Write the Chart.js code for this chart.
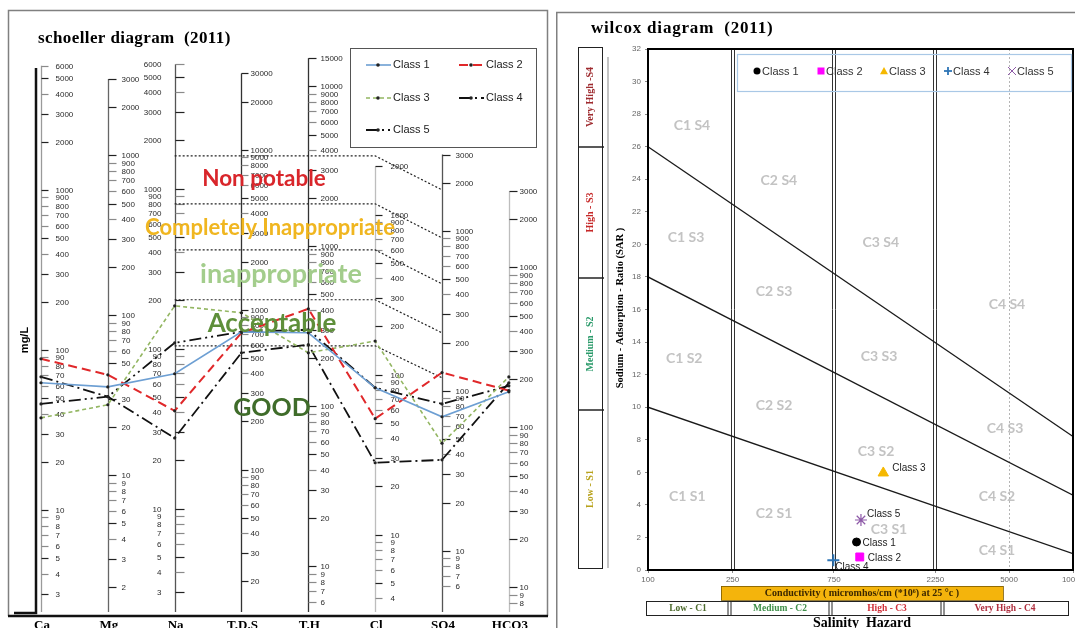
<!DOCTYPE html>
<html>
<head>
<meta charset="utf-8">
<title>schoeller and wilcox diagrams (2011)</title>
<script src="https://cdn.jsdelivr.net/npm/chart.js@4.4.1/dist/chart.umd.min.js"></script>
<style>
  html, body { margin: 0; padding: 0; background: #fff; }
  #page { position: relative; width: 1075px; height: 628px; overflow: hidden; }
  canvas { position: absolute; top: 0; }
  #schoeller { left: 0; }
  #wilcox { left: 556px; }
</style>
</head>
<body>
<div id="page">
  <canvas id="schoeller" width="550" height="628"></canvas>
  <canvas id="wilcox" width="532" height="628"></canvas>
</div>
<script>
// ---------- Schoeller diagram data (mg/L) ----------
const ions = ['Ca', 'Mg', 'Na', 'T.D.S', 'T.H', 'Cl', 'SO4', 'HCO3'];
// mg/L that correspond to one meq/L on the shared log scale, per column
const mgPerMeq = [20.04, 12.15, 19.6, 112, 45, 28.5, 36, 61];

const class1 = [62.5, 35.7, 69.6, 727, 288, 82.7, 68.8, 167];
const class2 = [88.2, 42.5, 40.8, 717, 407, 53.0, 130, 170];
const class3 = [37.7, 27.6, 185, 957, 216, 162, 47.0, 207];
const class4 = [68.1, 31.0, 27.6, 538, 243, 28.1, 37.0, 190];
const class5 = [46.1, 31.0, 108.6, 727, 301, 82.7, 82.8, 182];

// tick labels printed on each column (mg/L)
const caTicks   = [6000, 5000, 4000, 3000, 2000, 1000, 900, 800, 700, 600, 500, 400, 300, 200, 100, 90, 80, 70, 60, 50, 40, 30, 20, 10, 9, 8, 7, 6, 5, 4, 3];
const mgTicks   = [3000, 2000, 1000, 900, 800, 700, 600, 500, 400, 300, 200, 100, 90, 80, 70, 60, 50, 30, 20, 10, 9, 8, 7, 6, 5, 4, 3, 2];
const naTicks   = [6000, 5000, 4000, 3000, 2000, 1000, 900, 800, 700, 600, 500, 400, 300, 200, 100, 90, 80, 70, 60, 50, 40, 30, 20, 10, 9, 8, 7, 6, 5, 4, 3];
const tdsTicks  = [30000, 20000, 10000, 9000, 8000, 7000, 6000, 5000, 4000, 3000, 2000, 1000, 900, 800, 700, 600, 500, 400, 300, 200, 100, 90, 80, 70, 60, 50, 40, 30, 20];
const thTicks   = [15000, 10000, 9000, 8000, 7000, 6000, 5000, 4000, 3000, 2000, 1000, 900, 800, 700, 600, 500, 400, 300, 200, 100, 90, 80, 70, 60, 50, 40, 30, 20, 10, 9, 8, 7, 6];
const clTicks   = [2000, 1000, 900, 800, 700, 600, 500, 400, 300, 200, 100, 90, 80, 70, 60, 50, 40, 30, 20, 10, 9, 8, 7, 6, 5, 4];
const so4Ticks  = [3000, 2000, 1000, 900, 800, 700, 600, 500, 400, 300, 200, 100, 90, 80, 70, 60, 50, 40, 30, 20, 10, 9, 8, 7, 6];
const hco3Ticks = [3000, 2000, 1000, 900, 800, 700, 600, 500, 400, 300, 200, 100, 90, 80, 70, 60, 50, 40, 30, 20, 10, 9, 8];

// drinking-water class limits on the shared scale (meq/L): Na..Cl, then SO4
const zoneLimits    = [81.7, 41.0, 21.1, 10.3, 5.31];
const zoneLimitsSO4 = [50.1, 25.1, 12.95, 6.40, 3.35];
const zoneNames = ['Non potable', 'Completely Inappropriate', 'inappropriate', 'Acceptable', 'GOOD'];

// ---------- Wilcox diagram data ----------
const wClasses = ['Class 1', 'Class 2', 'Class 3', 'Class 4', 'Class 5'];
const wEC  = [958, 992, 1280, 745, 1005];   // micromhos/cm
const wSAR = [1.72, 0.80, 5.96, 0.60, 3.07];
const ecTicks = [100, 250, 750, 2250, 5000, 10000];
const salinityLimits = [250, 750, 2250];
const ecDotted = 5000;
// SAR of each sodium-hazard boundary at EC = 100 and EC = 10000
const sodiumS4 = [26, 8.2];
const sodiumS3 = [18, 4.6];
const sodiumS2 = [10, 1.0];
const sodiumClasses = ['Very High -S4', 'High - S3', 'Medium - S2', 'Low - S1'];
const salinityClasses = ['Low - C1', 'Medium - C2', 'High - C3', 'Very High - C4'];

// ---------- styles ----------
const schoellerStyles = [
  { color: '#6d9fd3', width: 1.6, dash: [] },
  { color: '#e0282a', width: 2.0, dash: [9, 5] },
  { color: '#93b662', width: 1.6, dash: [4, 3] },
  { color: '#111111', width: 1.8, dash: [12, 4, 2, 4] },
  { color: '#111111', width: 1.8, dash: [12, 4, 2, 4, 2, 4] }
];
const axisStyles = [
  { color: '#9a9a9a', dx: 14, tick: 7 },
  { color: '#666666', dx: 13, tick: 8 },
  { color: '#555555', dx: -14, tick: 9 },
  { color: '#333333', dx: 9, tick: 7 },
  { color: '#333333', dx: 12, tick: 8 },
  { color: '#bdbdbd', dx: 15, tick: 7 },
  { color: '#555555', dx: 13, tick: 8 },
  { color: '#bdbdbd', dx: 10, tick: 8 }
];
const zoneTextStyles = [
  { x: 264, y: 179, font: 'bold 22.5px Lato', color: '#d9262b' },
  { x: 270, y: 228, font: 'bold 22px Lato', color: '#f0b620' },
  { x: 281, y: 274, font: 'bold 27px Lato', color: '#a3cd8c' },
  { x: 272, y: 324, font: 'bold 26px Lato', color: '#5e8f3a' },
  { x: 272, y: 408, font: 'bold 25px Lato', color: '#3f6c2a' }
];
const wStyles = [
  { style: 'circle',   radius: 4,   color: '#000000', border: 1 },
  { style: 'rect',     radius: 5.6, color: '#ff00ff', border: 1 },
  { style: 'triangle', radius: 6,   color: '#f5b800', border: 1 },
  { style: 'cross',    radius: 6,   color: '#2e75b6', border: 2 },
  { style: 'star',     radius: 6,   color: '#8e5aa8', border: 1.2 }
];
const wLabelOffsets = [[6, 1], [8, 1], [9, -5], [2, 7], [6, -6]];
const zoneTags = [
  ['C1 S4', 161, 27.3], ['C2 S4', 413, 23.9], ['C1 S3', 151, 20.4], ['C3 S4', 1247, 20.1],
  ['C2 S3', 392, 17.1], ['C4 S4', 4887, 16.3], ['C1 S2', 148, 13.0], ['C3 S3', 1222, 13.1],
  ['C2 S2', 392, 10.1], ['C4 S3', 4786, 8.7], ['C3 S2', 1183, 7.25], ['C1 S1', 153, 4.5],
  ['C4 S2', 4385, 4.5], ['C2 S1', 392, 3.5], ['C3 S1', 1361, 2.46], ['C4 S1', 4385, 1.17]
];

function line(ctx, x1, y1, x2, y2) {
  ctx.beginPath(); ctx.moveTo(x1, y1); ctx.lineTo(x2, y2); ctx.stroke();
}
function vText(ctx, text, x, y, font, color) {
  ctx.save();
  ctx.translate(x, y); ctx.rotate(-Math.PI / 2);
  ctx.font = font; ctx.fillStyle = color;
  ctx.textAlign = 'center'; ctx.textBaseline = 'middle';
  ctx.fillText(text, 0, 0);
  ctx.restore();
}

// ================= Schoeller =================
const ionTicks = [caTicks, mgTicks, naTicks, tdsTicks, thTicks, clTicks, so4Ticks, hco3Ticks];
const classValues = [class1, class2, class3, class4, class5];

const schoellerDatasets = classValues.map((vals, k) => ({
  label: 'Class ' + (k + 1),
  data: vals.map((v, i) => ({ x: i, y: v / mgPerMeq[i] })),
  borderColor: schoellerStyles[k].color,
  borderWidth: schoellerStyles[k].width,
  borderDash: schoellerStyles[k].dash,
  pointRadius: 1.6,
  pointBackgroundColor: '#222',
  pointBorderWidth: 0,
  fill: false
}));
const zoneDatasets = zoneLimits.map((lim, k) => ({
  label: zoneNames[k],
  data: [{ x: 2, y: lim }, { x: 5, y: lim }, { x: 6, y: zoneLimitsSO4[k] }],
  borderColor: '#222',
  borderWidth: 1.2,
  borderDash: [2, 2],
  pointRadius: 0,
  fill: false
}));

const schoellerDecor = {
  id: 'schoellerDecor',
  beforeDatasetsDraw(chart) {
    const { ctx, chartArea: a, scales: { x, y } } = chart;
    ctx.save();
    // panel frame
    ctx.strokeStyle = '#808080'; ctx.lineWidth = 1.5;
    ctx.beginPath(); ctx.moveTo(8.5, 616); ctx.lineTo(8.5, 10.5); ctx.lineTo(547.5, 10.5); ctx.lineTo(547.5, 616); ctx.stroke();
    ctx.strokeStyle = '#111'; ctx.lineWidth = 2.5;
    line(ctx, 8, 616, 548, 616);
    // mg/L bracket
    ctx.lineWidth = 2.5;
    ctx.beginPath(); ctx.moveTo(a.left, 68); ctx.lineTo(a.left, 613); ctx.lineTo(14, 613); ctx.stroke();
    // one log axis per column
    ctx.font = '8px "Liberation Sans"';
    ctx.textBaseline = 'middle';
    ionTicks.forEach((ticks, i) => {
      const st = axisStyles[i];
      const px = Math.round(x.getPixelForValue(i)) + 0.5;
      const top = y.getPixelForValue(ticks[0] / mgPerMeq[i]);
      ctx.strokeStyle = st.color; ctx.lineWidth = 1.3;
      line(ctx, px, top, px, a.bottom);
      ctx.textAlign = st.dx < 0 ? 'right' : 'left';
      ticks.forEach(t => {
        const py = Math.round(y.getPixelForValue(t / mgPerMeq[i])) + 0.5;
        if (py > a.bottom - 2) return;
        const lead = String(t)[0];
        ctx.strokeStyle = ('1235'.includes(lead)) ? '#222' : '#8a8a8a';
        ctx.lineWidth = 1.2;
        line(ctx, px, py, px + st.tick, py);
        ctx.fillStyle = '#2a2a2a';
        ctx.fillText(String(t), px + st.dx, py);
      });
    });
    ctx.restore();
  },
  afterDatasetsDraw(chart) {
    const { ctx } = chart;
    ctx.save();
    ctx.textAlign = 'center'; ctx.textBaseline = 'middle';
    zoneNames.forEach((name, k) => {
      const s = zoneTextStyles[k];
      ctx.font = s.font; ctx.fillStyle = s.color;
      ctx.fillText(name, s.x, s.y);
    });
    ctx.restore();
  },
  afterDraw(chart) {
    const { ctx, scales: { x } } = chart;
    ctx.save();
    ctx.fillStyle = '#000';
    ctx.font = 'bold 17px "Liberation Serif"';
    ctx.textAlign = 'left'; ctx.textBaseline = 'alphabetic';
    if ('letterSpacing' in ctx) ctx.letterSpacing = '0.4px';
    ctx.fillText('schoeller diagram  (2011)', 38, 43);
    if ('letterSpacing' in ctx) ctx.letterSpacing = '0px';
    vText(ctx, 'mg/L', 25, 340, 'bold 11px "Liberation Sans"', '#000');
    ctx.font = 'bold 13px "Liberation Serif"';
    ctx.textAlign = 'center'; ctx.textBaseline = 'top';
    ions.forEach((name, i) => ctx.fillText(name, x.getPixelForValue(i) + 1, 619));
    // legend
    const bx = 350, by = 48;
    ctx.fillStyle = '#fff'; ctx.fillRect(bx, by, 186, 99);
    ctx.strokeStyle = '#555'; ctx.lineWidth = 1;
    ctx.strokeRect(bx + 0.5, by + 0.5, 186, 99);
    const cells = [[366, 65], [459, 65], [366, 98], [459, 98], [366, 130]];
    ctx.font = '11px "Liberation Sans"'; ctx.textAlign = 'left'; ctx.textBaseline = 'middle';
    schoellerStyles.forEach((s, k) => {
      const [lx, ly] = cells[k];
      ctx.strokeStyle = s.color; ctx.lineWidth = s.width; ctx.setLineDash(s.dash);
      line(ctx, lx, ly, lx + 25, ly);
      ctx.setLineDash([]);
      ctx.fillStyle = '#222';
      ctx.beginPath(); ctx.arc(lx + 12, ly, 1.8, 0, Math.PI * 2); ctx.fill();
      ctx.fillStyle = '#222';
      ctx.fillText('Class ' + (k + 1), lx + 27, ly);
    });
    ctx.restore();
  }
};

new Chart(document.getElementById('schoeller'), {
  type: 'line',
  data: { datasets: [...schoellerDatasets, ...zoneDatasets] },
  options: {
    responsive: false,
    animation: false,
    devicePixelRatio: 1,
    layout: { padding: { left: 36, right: 2, top: 60, bottom: 16 } },
    scales: {
      x: { type: 'linear', min: -0.0745, max: 7.556, display: false },
      y: { type: 'logarithmic', min: 0.115, max: 325, display: false }
    },
    elements: { line: { tension: 0 } },
    plugins: { legend: { display: false }, tooltip: { enabled: false } }
  },
  plugins: [schoellerDecor]
});

// ================= Wilcox =================
const OFF = 556; // page x of the wilcox canvas
const sodiumLines = [sodiumS4, sodiumS3, sodiumS2];

const wilcoxDatasets = [
  ...wClasses.map((name, k) => ({
    label: name,
    data: [{ x: wEC[k], y: wSAR[k] }],
    pointStyle: wStyles[k].style,
    pointRadius: wStyles[k].radius,
    backgroundColor: wStyles[k].color,
    borderColor: wStyles[k].color,
    borderWidth: wStyles[k].border
  })),
  ...sodiumLines.map((s, k) => ({
    label: 'S' + (4 - k) + ' limit',
    data: [{ x: ecTicks[0], y: s[0] }, { x: ecTicks[ecTicks.length - 1], y: s[1] }],
    showLine: true,
    borderColor: '#1a1a1a',
    borderWidth: 1.3,
    pointRadius: 0
  }))
];

function drawSymbol(ctx, style, x, y, r, color, bw) {
  ctx.save();
  ctx.fillStyle = color; ctx.strokeStyle = color; ctx.lineWidth = bw;
  ctx.beginPath();
  if (style === 'circle') { ctx.arc(x, y, r, 0, Math.PI * 2); ctx.fill(); }
  else if (style === 'rect') { ctx.fillRect(x - r, y - r, 2 * r, 2 * r); }
  else if (style === 'triangle') { ctx.moveTo(x, y - r); ctx.lineTo(x + r, y + r * 0.8); ctx.lineTo(x - r, y + r * 0.8); ctx.closePath(); ctx.fill(); }
  else if (style === 'cross') { line(ctx, x - r, y, x + r, y); line(ctx, x, y - r, x, y + r); }
  else { line(ctx, x - r, y - r, x + r, y + r); line(ctx, x - r, y + r, x + r, y - r); }
  ctx.restore();
}

const wilcoxDecor = {
  id: 'wilcoxDecor',
  beforeDatasetsDraw(chart) {
    const { ctx, chartArea: a, scales: { x, y } } = chart;
    ctx.save();
    // panel frame
    ctx.strokeStyle = '#808080'; ctx.lineWidth = 1.5;
    ctx.beginPath(); ctx.moveTo(0.75, 628); ctx.lineTo(0.75, 12.5); ctx.lineTo(532, 12.5); ctx.stroke();
    // class names in each field
    ctx.font = 'bold 14px Lato'; ctx.fillStyle = '#c3c3c3';
    ctx.textAlign = 'center'; ctx.textBaseline = 'middle';
    zoneTags.forEach(([name, ec, sar]) => ctx.fillText(name, x.getPixelForValue(ec), y.getPixelForValue(sar)));
    // salinity limits drawn as double lines
    ctx.strokeStyle = '#333'; ctx.lineWidth = 1;
    salinityLimits.forEach(v => {
      const px = Math.round(x.getPixelForValue(v));
      line(ctx, px - 1.5, a.top, px - 1.5, a.bottom);
      line(ctx, px + 1.5, a.top, px + 1.5, a.bottom);
    });
    ctx.strokeStyle = '#b5b5b5'; ctx.setLineDash([2, 2]);
    const dx = Math.round(x.getPixelForValue(ecDotted)) + 0.5;
    line(ctx, dx, a.top, dx, a.bottom);
    ctx.setLineDash([]);
    ctx.restore();
  },
  afterDatasetsDraw(chart) {
    const { ctx, chartArea: a, scales: { x, y } } = chart;
    ctx.save();
    ctx.strokeStyle = '#000'; ctx.lineWidth = 2;
    ctx.strokeRect(a.left, a.top, a.right - a.left, a.bottom - a.top);
    ctx.font = '10px "Liberation Sans"'; ctx.fillStyle = '#222';
    ctx.textAlign = 'left'; ctx.textBaseline = 'middle';
    wClasses.forEach((name, k) => {
      const px = x.getPixelForValue(wEC[k]), py = y.getPixelForValue(wSAR[k]);
      ctx.fillText(name, px + wLabelOffsets[k][0], py + wLabelOffsets[k][1]);
    });
    ctx.restore();
  },
  afterDraw(chart) {
    const { ctx } = chart;
    ctx.save();
    // title
    ctx.fillStyle = '#000'; ctx.font = 'bold 17px "Liberation Serif"';
    ctx.textAlign = 'left'; ctx.textBaseline = 'alphabetic';
    if ('letterSpacing' in ctx) ctx.letterSpacing = '0.8px';
    ctx.fillText('wilcox diagram  (2011)', 591 - OFF, 33);
    if ('letterSpacing' in ctx) ctx.letterSpacing = '0px';
    // legend
    const lx = 737 - OFF, ly = 54;
    ctx.strokeStyle = '#a9c8e6'; ctx.lineWidth = 1.2;
    ctx.strokeRect(lx + 0.5, ly + 0.5, 334, 37);
    const legendX = [757, 821, 884, 948, 1012];
    ctx.font = '11px "Liberation Sans"'; ctx.fillStyle = '#333';
    ctx.textBaseline = 'middle';
    wClasses.forEach((name, k) => {
      const sx = legendX[k] - OFF;
      const st = wStyles[k];
      const r = st.style === 'circle' ? 3.5 : st.style === 'rect' ? 3.5 : 4;
      drawSymbol(ctx, st.style, sx, 71, r, st.color, st.style === 'cross' ? 1.8 : 1);
      ctx.fillStyle = '#333';
      ctx.fillText(name, sx + 5, 71.5);
    });
    // sodium hazard boxes
    ctx.strokeStyle = '#222'; ctx.lineWidth = 1;
    const bx0 = 578 - OFF, bx1 = 602 - OFF;
    const edges = [47, 147, 278, 410, 568];
    ctx.strokeRect(bx0 + 0.5, edges[0] + 0.5, bx1 - bx0, edges[4] - edges[0]);
    ctx.lineWidth = 1.5;
    edges.slice(1, 4).forEach(e => line(ctx, bx0, e, bx1 + 2, e));
    const sColors = ['#9e2a2e', '#c62828', '#2a9a6a', '#b8a21c'];
    sodiumClasses.forEach((name, k) => {
      vText(ctx, name, 590 - OFF, (edges[k] + edges[k + 1]) / 2, 'bold 10px "Liberation Serif"', sColors[k]);
    });
    ctx.strokeStyle = '#b0b0b0'; ctx.lineWidth = 1.5;
    line(ctx, 608 - OFF, 57, 608 - OFF, 568);
    vText(ctx, 'Sodium - Adsorption - Ratio (SAR )', 620 - OFF, 308, 'bold 10.5px "Liberation Serif"', '#000');
    // conductivity bar
    ctx.fillStyle = '#f4b40c';
    ctx.fillRect(721 - OFF, 586, 282, 14);
    ctx.strokeStyle = '#7a5a00'; ctx.lineWidth = 0.8;
    ctx.strokeRect(721 - OFF + 0.5, 586.5, 282, 14);
    ctx.fillStyle = '#3b2700'; ctx.font = 'bold 10px "Liberation Serif"';
    ctx.textAlign = 'center';
    ctx.fillText('Conductivity ( micromhos/cm (*10\u2076) at 25 \u00b0c )', 862 - OFF, 593.5);
    // salinity hazard boxes
    ctx.strokeStyle = '#222'; ctx.lineWidth = 1;
    ctx.strokeRect(646 - OFF + 0.5, 601.5, 422, 14);
    [729, 830, 942].forEach(d => {
      line(ctx, d - OFF - 1, 601, d - OFF - 1, 616);
      line(ctx, d - OFF + 2, 601, d - OFF + 2, 616);
    });
    const cCenters = [688, 780, 887, 1005];
    const cColors = ['#4e6b2e', '#3f8f4a', '#d0303a', '#b03040'];
    ctx.font = 'bold 9.5px "Liberation Serif"';
    salinityClasses.forEach((name, k) => {
      ctx.fillStyle = cColors[k];
      ctx.fillText(name, cCenters[k] - OFF, 608.5);
    });
    ctx.fillStyle = '#000'; ctx.font = 'bold 14px "Liberation Serif"';
    ctx.textBaseline = 'top';
    ctx.fillText('Salinity  Hazard', 862 - OFF, 616);
    ctx.restore();
  }
};

new Chart(document.getElementById('wilcox'), {
  type: 'scatter',
  data: { datasets: wilcoxDatasets },
  options: {
    responsive: false,
    animation: false,
    devicePixelRatio: 1,
    layout: { padding: { left: 62, right: 15, top: 49, bottom: 40 } },
    scales: {
      x: {
        type: 'logarithmic', min: 100, max: 10000,
        afterBuildTicks: s => { s.ticks = ecTicks.map(v => ({ value: v })); },
        afterFit: s => { s.height = 18; },
        ticks: { callback: v => String(v), autoSkip: false, maxRotation: 0, font: { size: 8, family: 'Liberation Sans' }, color: '#666', padding: 2 },
        grid: { drawOnChartArea: false, tickLength: 3, color: '#888' },
        border: { display: false }
      },
      y: {
        type: 'linear', min: 0, max: 32,
        afterFit: s => { s.width = 30; },
        ticks: { stepSize: 2, font: { size: 8, family: 'Liberation Sans' }, color: '#666', padding: 4 },
        grid: { drawOnChartArea: false, tickLength: 3, color: '#888' },
        border: { display: false }
      }
    },
    plugins: { legend: { display: false }, tooltip: { enabled: false } }
  },
  plugins: [wilcoxDecor]
});
</script>
</body>
</html>
